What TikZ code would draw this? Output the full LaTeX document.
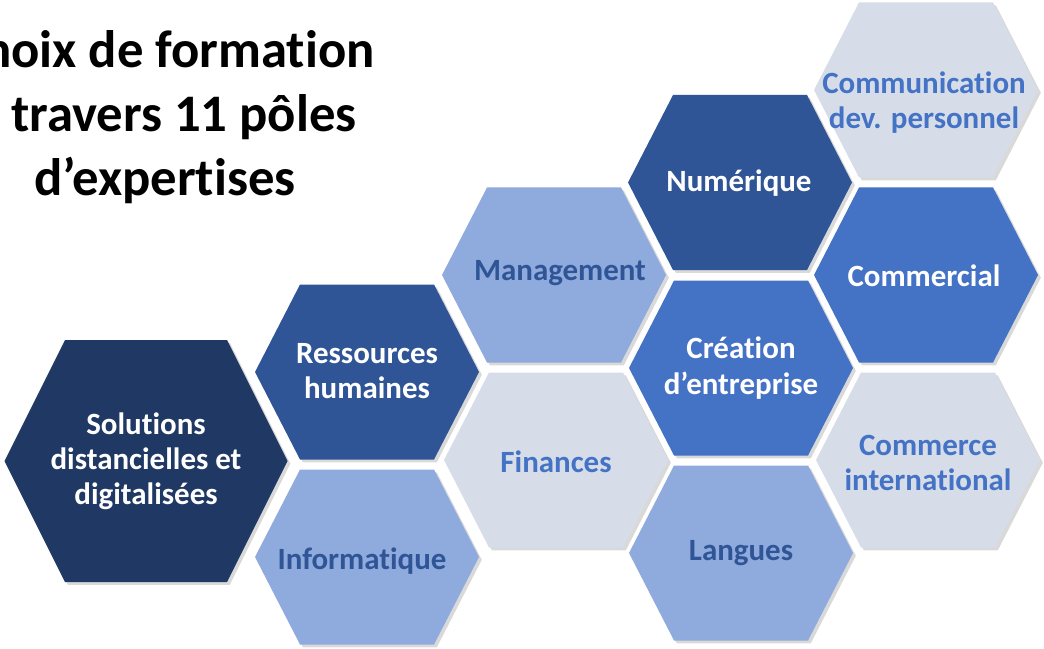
\documentclass[tikz,border=0pt]{standalone}
\usepackage{fontspec}
\setmainfont{Carlito}[Ligatures=NoCommon]
\usetikzlibrary{shadows}

\definecolor{navy}{RGB}{32,56,100}
\definecolor{royal}{RGB}{47,85,151}
\definecolor{azure}{RGB}{68,114,196}
\definecolor{sky}{RGB}{143,170,220}
\definecolor{mist}{RGB}{214,221,233}

\tikzset{
  cell/.style={drop shadow={shadow xshift=2pt,shadow yshift=-2pt,opacity=.3}},
  hexpath/.style args={#1/#2/#3}{insert path={++(-#1,0) -- ++(#1-#2,-#3)
      -- ++(2*#2,0) -- ++(#1-#2,#3) -- ++(#2-#1,#3) -- ++(-2*#2,0) -- cycle}},
  cellname/.style={font=\bfseries\fontsize{22}{25}\selectfont,align=center,inner sep=0pt},
}

\begin{document}
\begin{tikzpicture}[x=0.025cm,y=-0.025cm]
  \useasboundingbox (0,0) rectangle (1044,649);
  \clip (0,0) rectangle (1044,649);

  % title
  \node[font=\bfseries\fontsize{37.5}{45.5}\selectfont,align=center] (title) at (165,117)
    {Choix de formation\\à travers 11 pôles\\d’expertises};

  % big cell
  \fill[cell,navy] (146,461) [hexpath=141.5/81/121];
  \node[cellname,text=white] (sol) at (146,461) {Solutions\\distancielles et\\digitalisées};

  % second column
  \fill[cell,royal] (367,372) [hexpath=112/67/87.5];
  \node[cellname,text=white] (rh) at (367,371) {Ressources\\humaines};
  \fill[cell,sky] (367,557) [hexpath=112/67/87.5];
  \node[cellname,text=royal] (info) at (362,561) {Informatique};

  % third column
  \fill[cell,sky] (554,275) [hexpath=112/67/87.5];
  \node[cellname,text=royal] (mgmt) at (560,273) {Management};
  \fill[cell,mist] (556,460) [hexpath=112/67/87.5];
  \node[cellname,text=azure] (fin) at (556,462) {Finances};

  % fourth column
  \fill[cell,royal] (740,182.5) [hexpath=112/67/87.5];
  \node[cellname,text=white] (num) at (739,183) {Numérique};
  \fill[cell,azure] (741,368) [hexpath=112/67/87.5];
  \node[cellname,text=white] (crea) at (741,368) {Création\\d’entreprise};
  \fill[cell,sky] (741,553) [hexpath=112/67/87.5];
  \node[cellname,text=royal] (lang) at (741,553) {Langues};

  % fifth column
  \fill[cell,mist] (926,90) [hexpath=112/67/87.5];
  \node[cellname,text=azure] (comm) at (924,103) {Communication\\dev. personnel};
  \fill[cell,azure] (926,275) [hexpath=112/67/87.5];
  \node[cellname,text=white] (comc) at (924,276) {Commercial};
  \fill[cell,mist] (928,460) [hexpath=112/67/87.5];
  \node[cellname,text=azure] (cint) at (928,463) {Commerce\\international};
\end{tikzpicture}
\end{document}
